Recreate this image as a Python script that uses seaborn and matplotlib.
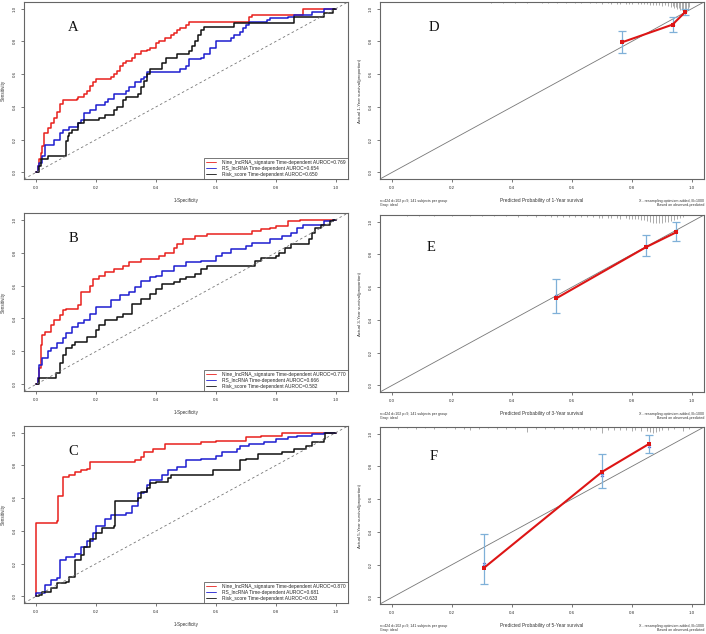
import numpy as np
import pandas as pd
import matplotlib
matplotlib.use("Agg")
import matplotlib.pyplot as plt
import seaborn as sns

# ---------------- data ----------------
# Panel A (ROC)
A_nine_fpr = [0, 0.005, 0.01, 0.015, 0.02, 0.025, 0.04, 0.05, 0.06, 0.07, 0.08, 0.09, 0.135, 0.14, 0.16, 0.17, 0.18, 0.19, 0.20, 0.25, 0.26, 0.27, 0.28, 0.29, 0.30, 0.32, 0.33, 0.35, 0.37, 0.38, 0.40, 0.41, 0.43, 0.45, 0.46, 0.47, 0.48, 0.50, 0.51, 0.71, 0.72, 0.89, 1.0]
A_nine_tpr = [0, 0.04, 0.08, 0.12, 0.16, 0.24, 0.27, 0.30, 0.33, 0.37, 0.42, 0.44, 0.45, 0.46, 0.48, 0.50, 0.53, 0.55, 0.57, 0.58, 0.60, 0.62, 0.65, 0.67, 0.68, 0.70, 0.72, 0.74, 0.75, 0.76, 0.79, 0.80, 0.82, 0.84, 0.85, 0.87, 0.88, 0.90, 0.92, 0.95, 0.96, 1.0, 1.0]
A_rs_fpr = [0, 0.005, 0.01, 0.02, 0.03, 0.06, 0.08, 0.09, 0.11, 0.14, 0.15, 0.16, 0.18, 0.20, 0.23, 0.24, 0.26, 0.30, 0.31, 0.33, 0.35, 0.36, 0.37, 0.48, 0.50, 0.51, 0.55, 0.56, 0.58, 0.60, 0.65, 0.66, 0.68, 0.69, 0.70, 0.71, 0.77, 0.78, 0.84, 0.86, 0.92, 0.96, 1.0]
A_rs_tpr = [0, 0.04, 0.06, 0.10, 0.17, 0.20, 0.24, 0.26, 0.28, 0.30, 0.32, 0.36, 0.38, 0.41, 0.43, 0.45, 0.48, 0.50, 0.52, 0.55, 0.57, 0.58, 0.61, 0.63, 0.65, 0.69, 0.70, 0.72, 0.76, 0.80, 0.82, 0.84, 0.86, 0.88, 0.90, 0.92, 0.93, 0.94, 0.95, 0.96, 0.98, 1.0, 1.0]
A_risk_fpr = [0, 0.01, 0.015, 0.04, 0.10, 0.105, 0.11, 0.12, 0.14, 0.16, 0.21, 0.23, 0.26, 0.27, 0.29, 0.30, 0.34, 0.35, 0.36, 0.37, 0.38, 0.42, 0.435, 0.47, 0.51, 0.52, 0.53, 0.54, 0.55, 0.56, 0.66, 0.86, 0.96, 0.99, 1.0]
A_risk_tpr = [0, 0.04, 0.08, 0.10, 0.19, 0.22, 0.24, 0.26, 0.30, 0.32, 0.33, 0.35, 0.38, 0.40, 0.44, 0.46, 0.48, 0.52, 0.56, 0.60, 0.63, 0.67, 0.70, 0.72, 0.74, 0.77, 0.80, 0.84, 0.87, 0.89, 0.91, 0.95, 0.97, 1.0, 1.0]
A_auc = ["0.769", "0.654", "0.650"]

# Panel B (ROC)
B_nine_fpr = [0, 0.005, 0.01, 0.015, 0.02, 0.03, 0.05, 0.06, 0.08, 0.09, 0.10, 0.14, 0.15, 0.18, 0.19, 0.21, 0.23, 0.26, 0.29, 0.31, 0.35, 0.41, 0.43, 0.46, 0.47, 0.49, 0.53, 0.57, 0.72, 0.75, 0.78, 0.80, 0.84, 0.88, 1.0]
B_nine_tpr = [0, 0.04, 0.10, 0.24, 0.30, 0.32, 0.36, 0.39, 0.42, 0.45, 0.46, 0.48, 0.56, 0.60, 0.64, 0.66, 0.68, 0.70, 0.72, 0.74, 0.76, 0.78, 0.80, 0.83, 0.85, 0.88, 0.90, 0.91, 0.93, 0.94, 0.95, 0.96, 0.99, 1.0, 1.0]
B_rs_fpr = [0, 0.005, 0.01, 0.02, 0.04, 0.05, 0.07, 0.09, 0.10, 0.12, 0.14, 0.16, 0.18, 0.20, 0.25, 0.28, 0.31, 0.33, 0.35, 0.38, 0.40, 0.42, 0.46, 0.50, 0.55, 0.60, 0.62, 0.65, 0.70, 0.72, 0.78, 0.82, 0.85, 0.87, 0.89, 0.96, 0.99, 1.0]
B_rs_tpr = [0, 0.04, 0.12, 0.16, 0.20, 0.22, 0.25, 0.28, 0.31, 0.35, 0.37, 0.39, 0.43, 0.47, 0.51, 0.54, 0.56, 0.59, 0.63, 0.65, 0.66, 0.69, 0.72, 0.74, 0.75, 0.78, 0.80, 0.82, 0.84, 0.86, 0.88, 0.90, 0.92, 0.95, 0.97, 0.99, 1.0, 1.0]
B_risk_fpr = [0, 0.01, 0.065, 0.08, 0.09, 0.10, 0.12, 0.13, 0.17, 0.20, 0.21, 0.23, 0.27, 0.29, 0.32, 0.35, 0.38, 0.40, 0.42, 0.46, 0.48, 0.50, 0.53, 0.55, 0.57, 0.73, 0.75, 0.80, 0.81, 0.83, 0.85, 0.91, 0.92, 0.93, 0.95, 0.98, 0.99, 1.0]
B_risk_tpr = [0, 0.04, 0.07, 0.13, 0.18, 0.22, 0.24, 0.26, 0.29, 0.33, 0.36, 0.39, 0.41, 0.43, 0.49, 0.52, 0.55, 0.58, 0.61, 0.62, 0.64, 0.65, 0.67, 0.70, 0.72, 0.75, 0.77, 0.78, 0.80, 0.83, 0.85, 0.88, 0.92, 0.95, 0.97, 0.99, 1.0, 1.0]
B_auc = ["0.770", "0.666", "0.582"]

# Panel C (ROC)
C_nine_fpr = [0, 0.0, 0.07, 0.072, 0.09, 0.11, 0.13, 0.15, 0.17, 0.18, 0.33, 0.35, 0.36, 0.39, 0.43, 0.55, 0.60, 0.70, 0.75, 0.82, 1.0]
C_nine_tpr = [0, 0.45, 0.46, 0.61, 0.73, 0.74, 0.76, 0.77, 0.78, 0.82, 0.83, 0.85, 0.88, 0.90, 0.93, 0.94, 0.95, 0.97, 0.98, 1.0, 1.0]
C_rs_fpr = [0, 0.0, 0.03, 0.05, 0.07, 0.08, 0.10, 0.13, 0.15, 0.17, 0.19, 0.20, 0.23, 0.25, 0.30, 0.32, 0.34, 0.36, 0.37, 0.38, 0.42, 0.44, 0.47, 0.50, 0.55, 0.60, 0.62, 0.67, 0.68, 0.71, 0.76, 0.80, 0.84, 0.87, 0.92, 0.96, 1.0]
C_rs_tpr = [0, 0.02, 0.07, 0.10, 0.11, 0.22, 0.24, 0.26, 0.30, 0.34, 0.39, 0.43, 0.47, 0.50, 0.51, 0.55, 0.63, 0.64, 0.68, 0.71, 0.74, 0.77, 0.79, 0.83, 0.84, 0.86, 0.88, 0.90, 0.92, 0.93, 0.94, 0.96, 0.97, 0.98, 0.99, 1.0, 1.0]
C_risk_fpr = [0, 0.01, 0.02, 0.05, 0.07, 0.10, 0.11, 0.13, 0.15, 0.16, 0.18, 0.20, 0.22, 0.26, 0.262, 0.34, 0.35, 0.37, 0.38, 0.40, 0.44, 0.45, 0.59, 0.68, 0.70, 0.74, 0.82, 0.86, 0.90, 0.92, 0.96, 0.962, 1.0]
C_risk_tpr = [0, 0.01, 0.03, 0.05, 0.08, 0.09, 0.12, 0.22, 0.25, 0.30, 0.35, 0.39, 0.42, 0.43, 0.58, 0.60, 0.64, 0.66, 0.69, 0.70, 0.72, 0.74, 0.77, 0.83, 0.84, 0.87, 0.88, 0.90, 0.92, 0.94, 0.96, 1.0, 1.0]
C_auc = ["0.870", "0.681", "0.633"]

roc_names = ["Nine_lncRNA_signature", "RS_lncRNA", "Risk_score"]
roc_colors = ["#e8201c", "#1c1cd0", "#111111"]

# Calibration panels D, E, F
D_pred = [0.765, 0.935, 0.978]
D_obs = [0.793, 0.902, 0.980]
D_corr = [0.800, 0.906, 0.985]
D_lo = [0.730, 0.855, 0.960]
D_hi = [0.862, 0.950, 1.000]
D_rug_x = [0.33, 0.37, 0.41, 0.45, 0.50, 0.52, 0.55, 0.58, 0.61, 0.63, 0.66, 0.68, 0.70, 0.72, 0.73, 0.75, 0.76, 0.78, 0.79, 0.80, 0.82, 0.83, 0.84, 0.85, 0.86, 0.87, 0.88, 0.89, 0.90, 0.91, 0.92, 0.93, 0.935, 0.94, 0.945, 0.95, 0.955, 0.96, 0.965, 0.97, 0.975, 0.98, 0.985, 0.99]
D_rug_len = [0.006, 0.006, 0.006, 0.006, 0.006, 0.008, 0.006, 0.008, 0.006, 0.008, 0.008, 0.008, 0.010, 0.008, 0.010, 0.010, 0.012, 0.010, 0.012, 0.012, 0.014, 0.012, 0.015, 0.014, 0.016, 0.018, 0.020, 0.018, 0.022, 0.020, 0.026, 0.030, 0.024, 0.036, 0.030, 0.040, 0.036, 0.046, 0.050, 0.052, 0.052, 0.050, 0.046, 0.030]

E_pred = [0.548, 0.848, 0.948]
E_obs = [0.532, 0.845, 0.935]
E_corr = [0.545, 0.850, 0.940]
E_lo = [0.440, 0.790, 0.880]
E_hi = [0.648, 0.915, 0.995]
E_rug_x = [0.05, 0.09, 0.14, 0.20, 0.26, 0.30, 0.34, 0.38, 0.42, 0.45, 0.48, 0.51, 0.53, 0.55, 0.57, 0.59, 0.61, 0.63, 0.65, 0.67, 0.69, 0.70, 0.72, 0.73, 0.75, 0.76, 0.78, 0.79, 0.80, 0.81, 0.82, 0.83, 0.84, 0.85, 0.86, 0.87, 0.88, 0.89, 0.90, 0.91, 0.92, 0.93, 0.94, 0.95, 0.96, 0.97]
E_rug_len = [0.008, 0.008, 0.008, 0.008, 0.008, 0.008, 0.008, 0.008, 0.010, 0.008, 0.010, 0.008, 0.010, 0.012, 0.010, 0.012, 0.010, 0.014, 0.012, 0.014, 0.016, 0.018, 0.016, 0.020, 0.018, 0.022, 0.020, 0.024, 0.022, 0.026, 0.024, 0.030, 0.028, 0.034, 0.040, 0.046, 0.050, 0.048, 0.050, 0.044, 0.040, 0.036, 0.030, 0.026, 0.020, 0.014]

F_pred = [0.307, 0.700, 0.855]
F_obs = [0.181, 0.766, 0.935]
F_corr = [0.207, 0.746, 0.925]
F_lo = [0.085, 0.665, 0.882]
F_hi = [0.390, 0.878, 0.994]
F_rug_x = [0.02, 0.05, 0.08, 0.11, 0.14, 0.18, 0.21, 0.24, 0.26, 0.29, 0.32, 0.35, 0.38, 0.41, 0.45, 0.48, 0.51, 0.54, 0.57, 0.60, 0.62, 0.64, 0.66, 0.68, 0.70, 0.72, 0.74, 0.76, 0.78, 0.80, 0.81, 0.83, 0.85, 0.86, 0.87, 0.88, 0.89, 0.90, 0.92, 0.94, 0.97, 0.99]
F_rug_len = [0.010, 0.008, 0.010, 0.008, 0.010, 0.008, 0.010, 0.010, 0.020, 0.010, 0.008, 0.010, 0.010, 0.012, 0.030, 0.010, 0.012, 0.010, 0.012, 0.012, 0.014, 0.012, 0.016, 0.014, 0.035, 0.016, 0.018, 0.016, 0.020, 0.026, 0.020, 0.022, 0.024, 0.030, 0.036, 0.030, 0.024, 0.020, 0.016, 0.014, 0.026, 0.012]

ticks = [0.0, 0.2, 0.4, 0.6, 0.8, 1.0]
tick_labels = ["0.0", "0.2", "0.4", "0.6", "0.8", "1.0"]

# ---------------- style ----------------
sns.set_theme(style="white")
plt.rcParams['font.family'] = ['Liberation Sans', 'DejaVu Sans']

W, H = 706, 634
fig = plt.figure(figsize=(W / 100, H / 100), dpi=100)
fig.patch.set_facecolor("white")


def ax_px(l, t, r, b):
    return fig.add_axes([l / W, 1 - b / H, (r - l) / W, (b - t) / H])


def style_axes(ax):
    ax.set_xlim(-0.04, 1.04)
    ax.set_ylim(-0.04, 1.04)
    ax.set_xticks(ticks)
    ax.set_xticklabels(tick_labels)
    ax.set_yticks(ticks)
    ax.set_yticklabels(tick_labels, rotation=90, va="center")
    ax.tick_params(bottom=True, left=True, direction="out", length=2.5, width=0.5,
                   labelsize=3.2, pad=2.5, color="#444444", labelcolor="#333333")
    for s in ax.spines.values():
        s.set_color("#666666")
        s.set_linewidth(0.8)
    ax.set_facecolor("white")


def roc_panel(ax, curves, aucs, letter):
    for (fpr, tpr), col, name, auc in zip(curves, roc_colors, roc_names, aucs):
        df = pd.DataFrame({"fpr": fpr, "tpr": tpr})
        sns.lineplot(data=df, x="fpr", y="tpr", ax=ax, color=col, lw=1.1,
                     drawstyle="steps-post", estimator=None, sort=False,
                     label=f"{name} Time-dependent AUROC={auc}")
    ax.axline((0, 0), (1, 1), color="#777777", lw=0.6, ls=(0, (3, 3)))
    style_axes(ax)
    ax.set_xlabel("1-Specificity", fontsize=3.3, labelpad=6, color="#333333")
    ax.set_ylabel("Sensitivity", fontsize=3.3, labelpad=5, color="#333333")
    leg = ax.legend(loc="lower right", fontsize=3.5, frameon=True, fancybox=False,
                    borderaxespad=0, handlelength=2.0, handletextpad=1.3,
                    borderpad=0.45, labelspacing=0.2)
    leg.get_frame().set_edgecolor("#555555")
    leg.get_frame().set_linewidth(0.7)
    for line, col in zip(leg.get_lines(), roc_colors):
        line.set_linewidth(0.6)
        line.set_color(col)
    ax.text(0.125, 0.885, letter, fontsize=10.5, family="Liberation Serif",
            ha="center", va="center", color="#111111")


def cal_panel(ax, pred, obs, corr, lo, hi, rug_x, rug_len, year, letter, lx, ly):
    pred = np.array(pred); obs = np.array(obs); lo = np.array(lo); hi = np.array(hi)
    ax.axline((0, 0), (1, 1), color="#777777", lw=0.6)
    top = 1.04
    ax.vlines(rug_x, [top - l for l in rug_len], top, color="#8a8a8a", lw=0.5)
    ax.errorbar(pred, obs, yerr=[obs - lo, hi - obs], fmt="none", ecolor="#7fb0d8",
                elinewidth=0.9, capsize=2.6, capthick=0.9)
    df = pd.DataFrame({"pred": pred, "obs": obs})
    sns.lineplot(data=df, x="pred", y="obs", ax=ax, color="#dd1515", lw=1.5,
                 marker="s", markersize=3, markeredgewidth=0, estimator=None, sort=False)
    dfc = pd.DataFrame({"pred": pred, "corr": corr})
    sns.scatterplot(data=dfc, x="pred", y="corr", ax=ax, marker="x", color="#3a4fcf",
                    s=5, linewidth=0.6)
    style_axes(ax)
    ax.set_xlabel(f"Predicted Probability of {year}-Year survival", fontsize=3.4,
                  labelpad=6, color="#333333")
    ax.set_ylabel(f"Actual {year}-Year survival(proportion)", fontsize=3.2,
                  labelpad=5, color="#333333")
    ax.text(lx, ly, letter, fontsize=10.5, family="Liberation Serif",
            ha="center", va="center", color="#111111")
    ax.text(0.0, -0.115, "n=424 d=102 p=9, 141 subjects per group\nGray: ideal",
            transform=ax.transAxes, fontsize=2.6, ha="left", va="top",
            color="#333333", linespacing=1.0)
    ax.text(1.0, -0.115, "X - resampling optimism added, B=1000\nBased on observed-predicted",
            transform=ax.transAxes, fontsize=2.6, ha="right", va="top",
            color="#333333", linespacing=1.0, multialignment="right")


axA = ax_px(24, 2, 348, 179)
axB = ax_px(24, 213, 348, 391)
axC = ax_px(24, 426, 348, 603)
axD = ax_px(380, 2, 704, 179)
axE = ax_px(380, 215, 704, 392)
axF = ax_px(380, 427, 704, 604)

roc_panel(axA, [(A_nine_fpr, A_nine_tpr), (A_rs_fpr, A_rs_tpr), (A_risk_fpr, A_risk_tpr)], A_auc, "A")
roc_panel(axB, [(B_nine_fpr, B_nine_tpr), (B_rs_fpr, B_rs_tpr), (B_risk_fpr, B_risk_tpr)], B_auc, "B")
roc_panel(axC, [(C_nine_fpr, C_nine_tpr), (C_rs_fpr, C_rs_tpr), (C_risk_fpr, C_risk_tpr)], C_auc, "C")

cal_panel(axD, D_pred, D_obs, D_corr, D_lo, D_hi, D_rug_x, D_rug_len, 1, "D", 0.14, 0.885)
cal_panel(axE, E_pred, E_obs, E_corr, E_lo, E_hi, E_rug_x, E_rug_len, 3, "E", 0.13, 0.84)
cal_panel(axF, F_pred, F_obs, F_corr, F_lo, F_hi, F_rug_x, F_rug_len, 5, "F", 0.14, 0.86)

fig.savefig("out.png", dpi=100, facecolor="white")
